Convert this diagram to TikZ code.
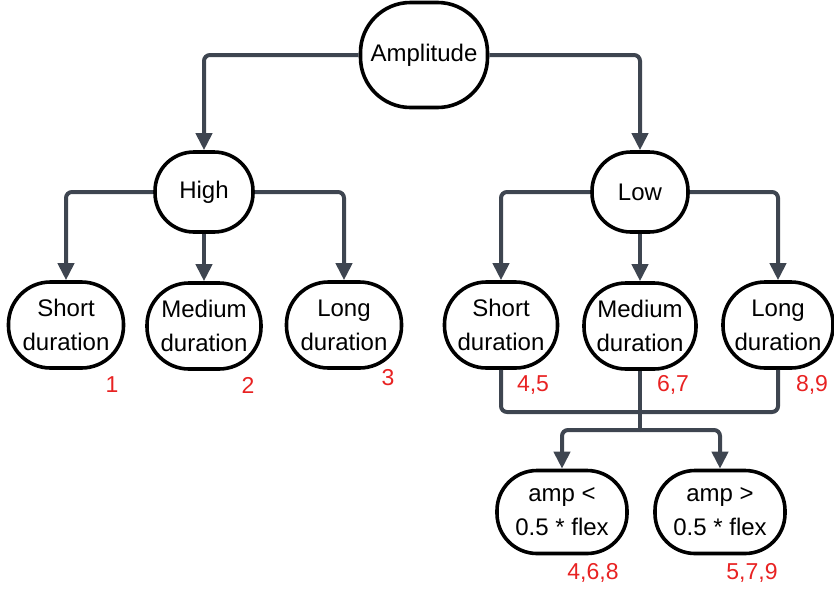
\documentclass[tikz,border=0pt]{standalone}
\usepackage{fontspec}
\setmainfont{Liberation Sans}
\usetikzlibrary{arrows.meta}
\definecolor{conncol}{HTML}{3E4550}
\definecolor{numred}{HTML}{E82222}
\tikzset{
  box/.style={draw=black, line width=3.6pt, rounded corners=42pt, fill=white, align=center,
    inner sep=0pt, font=\fontsize{24}{34}\selectfont},
  conn/.style={draw=conncol, line width=4pt, rounded corners=6pt},
  arr/.style={conn, -{Triangle[length=17pt,width=16pt]}},
  num/.style={text=numred, font=\fontsize{23}{27}\selectfont, inner sep=0pt}
}
\begin{document}
\begin{tikzpicture}[x=1pt,y=-1pt]
\useasboundingbox (0,0) rectangle (834,592);
% nodes
\node[box, minimum width=127pt, minimum height=105pt, rounded corners=50pt] (amp) at (424,55) {Amplitude};
\node[box, minimum width=98pt, minimum height=80pt, rounded corners=39pt] (high) at (204,192) {High};
\node[box, minimum width=96pt, minimum height=80pt, rounded corners=39pt] (low) at (640,192) {Low};
\node[box, minimum width=115pt, minimum height=86pt] (hs) at (66,325) {Short\\duration};
\node[box, minimum width=114pt, minimum height=86pt] (hm) at (204,326) {Medium\\duration};
\node[box, minimum width=115pt, minimum height=86pt] (hl) at (344,325) {Long\\duration};
\node[box, minimum width=113pt, minimum height=86pt] (ls) at (501,325) {Short\\duration};
\node[box, minimum width=112pt, minimum height=86pt] (lm) at (640,326) {Medium\\duration};
\node[box, minimum width=110pt, minimum height=86pt] (ll) at (778,325) {Long\\duration};
\node[box, minimum width=130pt, minimum height=83pt, rounded corners=40pt] (a1) at (562,512) {amp <\\0.5 * flex};
\node[box, minimum width=130pt, minimum height=83pt, rounded corners=40pt] (a2) at (720,512) {amp >\\0.5 * flex};
% numbers
\node[num] (n1) at (112,385) {1};
\node[num] (n2) at (248,385) {2};
\node[num] (n3) at (388,378) {3};
\node[num] (n45) at (533,385) {4,5};
\node[num] (n67) at (673,385) {6,7};
\node[num] (n89) at (812,385) {8,9};
\node[num] (n468) at (593,573) {4,6,8};
\node[num] (n579) at (752,573) {5,7,9};
% connectors
\draw[arr] (amp.west) -| (high.north);
\draw[arr] (amp.east) -| (low.north);
\draw[arr] (high.west) -| (hs.north);
\draw[arr] (high.south) -- (hm.north);
\draw[arr] (high.east) -| (hl.north);
\draw[arr] (low.west) -| (ls.north);
\draw[arr] (low.south) -- (lm.north);
\draw[arr] (low.east) -| (ll.north);
\coordinate (j1) at (640,412);
\coordinate (j2) at (640,430);
\draw[conn] (ls.south) |- (j1) -| (ll.south);
\draw[conn] (lm.south) -- (j2);
\draw[arr] (j2) -| (a1.north);
\draw[arr] (j2) -| (a2.north);
\end{tikzpicture}
\end{document}
